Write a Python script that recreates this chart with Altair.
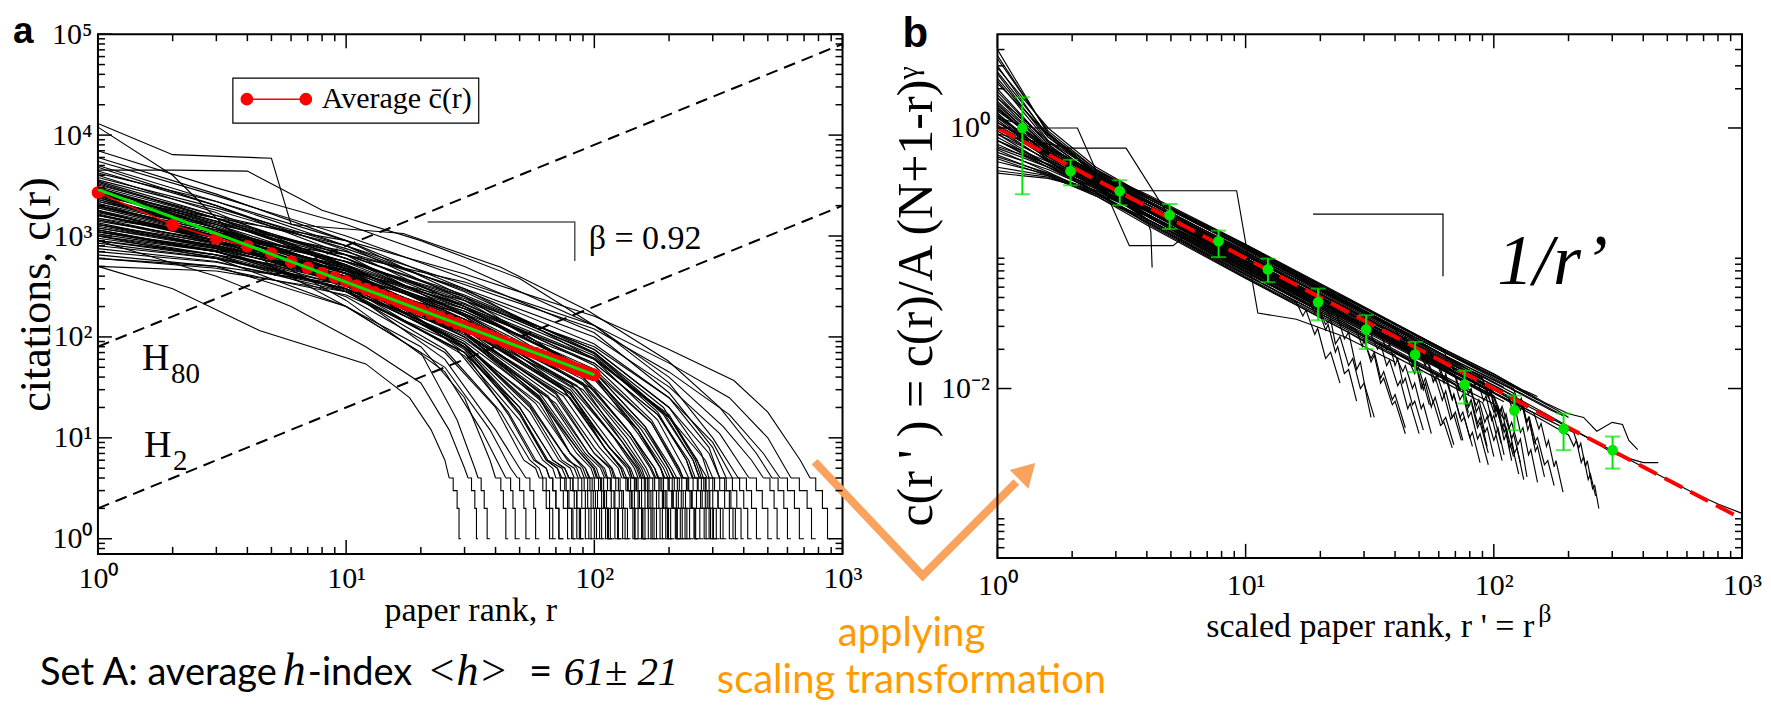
import altair as alt
import pandas as pd

SERIF = "Liberation Serif"
SANS = "Liberation Sans"
HUM = "Lato"

# ---------------------------------------------------------------- data
# Panel a: citation curves c(r).  "rank:citations" key points of the body,
# then after "|" the ranks where the staircase tail drops to 3, 2, 1 citations, and the last rank.
A_CURVES = [
    "1:2500 3:1500 10:900 30:420 100:160 200:75 365:37 500:18 676:6 740:4 | 780 830 870 900",
    "1:1500 3:1000 10:650 30:350 100:130 200:55 350:25 500:10 620:4 | 670 720 750 780",
    "1:3200 3:1600 10:800 30:330 100:120 200:45 350:17 480:7 560:4 | 600 640 670 700",
    "1:13000 2:6400 5:5900 6:1300 17:1060 42:490 94:183 198:58 320:20 450:7 520:4 | 550 580 600 620",
    "1:7000 3:3000 10:1300 30:500 100:130 200:40 330:13 430:6 480:4 | 510 530 545 560",
    "1:2200 3:1300 10:700 30:300 100:100 200:32 320:11 420:4 | 450 475 500 520",
    "1:4500 2:4500 4:4400 8:1800 20:900 50:380 100:130 200:35 300:10 380:4 | 410 430 450 470",
    "1:1200 3:800 10:450 30:230 100:80 200:25 300:9 360:4 | 385 400 415 430",
    "1:5500 3:2500 10:1000 30:380 100:110 200:28 300:8 340:4 | 360 375 390 400",
    "1:2800 3:1500 10:650 30:260 100:75 200:20 290:7 320:4 | 340 355 370 380",
    "1:1700 3:1000 10:500 30:200 100:60 200:16 280:6 300:4 | 320 335 350 360",
    "1:900 3:650 10:400 30:190 100:60 200:17 270:5 285:4 | 300 315 330 340",
    "1:3800 3:1900 10:800 30:280 100:70 200:16 260:6 275:4 | 290 300 310 320",
    "1:2400 3:1200 10:520 30:200 100:55 180:17 240:6 255:4 | 270 280 290 300",
    "1:600 3:500 10:330 30:170 100:55 180:17 235:6 250:4 | 262 272 282 290",
    "1:4200 3:2200 10:900 30:300 100:60 180:15 230:5 240:4 | 250 258 266 275",
    "1:1400 3:900 10:450 30:180 100:45 170:14 215:5 225:4 | 235 243 252 260",
    "1:3000 3:1400 10:550 30:190 100:45 160:13 205:5 215:4 | 225 233 242 250",
    "1:800 3:600 10:330 30:150 100:40 160:12 200:5 208:4 | 216 224 232 240",
    "1:2000 3:1100 10:480 30:170 100:38 150:12 190:5 198:4 | 206 214 222 230",
    "1:6000 3:2600 10:900 30:250 100:40 150:11 185:5 190:4 | 198 205 212 220",
    "1:1100 3:750 10:380 30:140 100:30 140:11 175:5 182:4 | 190 196 203 210",
    "1:2600 3:1300 10:500 30:160 90:35 140:10 168:5 175:4 | 182 188 194 200",
    "1:700 3:550 10:300 30:120 90:30 130:10 158:5 165:4 | 172 178 184 190",
    "1:3500 3:1600 10:600 30:170 90:33 130:9 152:5 158:4 | 164 169 174 180",
    "1:1600 3:950 10:420 30:140 80:35 120:10 145:5 150:4 | 155 160 165 170",
    "1:1000 3:700 10:350 30:120 80:30 120:8 140:5 145:4 | 150 155 160 165",
    "1:2300 3:1200 10:450 30:130 80:28 115:8 135:5 140:4 | 145 150 155 160",
    "1:500 3:450 10:280 30:110 80:25 110:8 130:5 135:4 | 140 145 150 155",
    "1:4800 3:2000 10:650 30:160 80:28 110:8 128:5 132:4 | 137 142 146 150",
    "1:1300 3:800 10:380 30:110 70:28 100:8 118:5 122:4 | 127 131 136 140",
    "1:1900 3:1000 10:400 30:110 70:25 100:7 115:5 118:4 | 122 126 130 135",
    "1:850 3:600 10:300 30:95 70:22 95:7 108:5 112:4 | 116 120 124 128",
    "1:2700 3:1200 10:420 30:110 60:28 90:7 102:5 105:4 | 109 112 116 120",
    "1:1150 3:700 10:320 30:90 60:25 85:7 97:5 100:4 | 104 107 111 115",
    "1:600 3:480 10:260 30:80 60:22 80:7 92:5 96:4 | 100 103 107 110",
    "1:3300 3:1500 10:480 30:110 60:25 80:7 90:5 93:4 | 96 99 102 105",
    "1:1500 3:850 10:350 30:85 55:22 75:7 85:5 88:4 | 91 94 97 100",
    "1:2100 3:1000 10:380 30:80 55:18 72:6 80:5 83:4 | 86 89 92 95",
    "1:750 3:560 10:280 30:70 50:18 65:6 74:5 77:4 | 80 83 85 88",
    "1:1800 3:900 10:320 30:65 50:15 62:6 68:5 70:4 | 73 75 78 80",
    "1:4000 3:1700 10:500 30:70 45:17 57:6 64:5 66:4 | 68 70 72 75",
    "1:950 3:650 10:250 25:70 40:20 52:6 58:5 60:4 | 62 64 66 68",
    "1:2500 3:1100 10:300 25:60 40:12 50:5 53:4 | 55 57 58 60",
    "1:650 3:500 10:200 25:50 38:12 46:5 49:4 | 50 52 53 55",
    "1:3000 3:1200 10:230 25:45 35:12 42:5 44:4 | 46 47 48 50",
    "1:12000 2:4000 3:1500 5:500 10:200 20:80 30:25 38:6 40:4 | 42 43 44 45",
    "1:1000 3:600 10:200 20:70 28:15 33:5 34:4 | 35 36 37 38",
    "1:900 3:400 6:200 12:80 20:35 26:12 30:5 31:4 | 32 33 33.5 34",
    "1:500 2:300 4.5:115 12:54 18:25 22:12 25:6 26:4 | 27 28 28.5 29",
    "1:2000 3:1100 10:560 30:230 100:65 180:18 235:6 248:4 | 260 268 277 285",
    "1:1800 3:1000 10:480 30:190 100:45 160:13 200:5 210:4 | 220 228 236 245",
    "1:3100 3:1500 10:600 30:200 100:42 150:12 185:5 192:4 | 200 208 216 225",
    "1:1250 3:780 10:400 30:150 90:38 140:11 170:5 177:4 | 184 190 197 205",
    "1:2200 3:1150 10:470 30:150 90:34 135:10 162:5 168:4 | 175 182 188 195",
    "1:1450 3:870 10:400 30:140 85:33 130:9 155:5 160:4 | 166 172 178 185",
    "1:2900 3:1400 10:520 30:150 85:30 125:9 148:5 153:4 | 159 164 169 175",
    "1:1750 3:950 10:400 30:125 80:27 115:8 138:5 142:4 | 148 152 157 162",
    "1:1050 3:700 10:340 30:110 75:26 105:8 125:5 129:4 | 134 139 143 148",
    "1:2600 3:1250 10:450 30:120 70:27 100:7 117:5 120:4 | 125 129 133 138",
    "1:1350 3:780 10:340 30:100 65:25 92:7 106:5 110:4 | 113 117 121 125",
    "1:2000 3:1000 10:380 30:100 60:26 88:7 100:5 103:4 | 107 110 114 118",
    "1:900 3:620 10:300 30:85 58:22 80:7 92:5 95:4 | 98 101 105 108",
    "1:1650 3:900 10:350 30:85 55:20 74:6 83:5 86:4 | 89 92 95 98",
    "1:1150 3:700 10:290 30:70 50:20 68:6 76:5 79:4 | 82 85 87 90",
    "1:2400 3:1100 10:380 30:75 50:17 64:6 71:5 74:4 | 77 79 82 84",
    "1:1300 3:750 10:280 25:75 42:18 55:6 60:5 62:4 | 64 66 68 70",
    "1:1600 3:1000 10:560 30:250 100:75 200:20 270:7 290:4 | 305 315 322 330",
    "1:2600 3:1400 10:650 30:250 100:68 190:17 250:6 265:4 | 280 290 300 310",
    "1:1100 3:720 10:400 30:180 100:48 170:14 218:5 228:4 | 240 248 256 265",
    "1:5000 3:2200 10:800 30:230 100:42 155:12 195:5 202:4 | 210 218 226 235",
    "1:3600 3:1800 10:750 30:290 100:85 200:25 290:8 320:4 | 335 350 362 375",
    "1:2100 3:1150 10:560 30:240 100:70 190:20 255:6 270:4 | 282 292 302 312",
    "1:1300 3:850 10:460 30:210 100:62 190:18 250:6 265:4 | 276 285 294 303",
    "1:2700 3:1350 10:600 30:215 100:52 170:15 220:5 228:4 | 238 246 254 262",
    "1:1600 3:900 10:430 30:165 90:40 150:12 185:5 192:4 | 200 207 214 222",
    "1:4400 3:2000 10:720 30:200 90:40 140:11 175:5 180:4 | 187 193 199 206",
    "1:1950 3:1050 10:430 30:135 80:32 125:9 150:5 155:4 | 161 166 171 177",
    "1:1200 3:760 10:360 30:120 75:30 115:8 138:5 142:4 | 147 152 156 161",
    "1:3400 3:1500 10:520 30:140 75:30 110:8 128:5 132:4 | 136 141 145 150",
    "1:1450 3:820 10:360 30:105 65:26 95:7 110:5 113:4 | 117 121 125 129",
    "1:2300 3:1100 10:420 30:100 60:24 88:7 99:5 102:4 | 106 109 113 117",
    "1:1000 3:650 10:300 30:85 55:21 78:6 88:5 91:4 | 94 97 100 103",
    "1:1750 3:900 10:330 30:78 50:20 68:6 76:5 79:4 | 82 85 88 91",
    "1:2900 3:1300 10:420 30:80 50:18 64:6 71:5 73:4 | 76 78 81 84",
    "1:1100 3:700 10:280 28:75 45:18 58:6 64:5 66:4 | 68 70 72 75",
]

# Panel a: average curve (red dots) and power-law fit (green)
AVG_RANK = [1, 2, 3, 4, 5, 6, 7, 8, 9, 10, 11, 12, 13, 14, 15, 16, 17, 18, 19, 20,
            22, 24, 26, 28, 30, 32, 34, 36, 38, 40, 43, 46, 49, 52, 55, 58, 61, 64, 67,
            70, 73, 76, 79, 82, 85, 88, 91, 94, 97, 100]
AVG_CIT = [2700, 1290, 950, 790, 670, 555, 485, 430, 390, 355, 322, 298, 276, 258, 242, 228,
           215, 204, 194, 185, 170, 157, 146, 136, 127, 120, 113, 107, 102, 97, 91, 85, 80,
           76, 72, 69, 66, 63, 60, 58, 56, 54, 52, 50, 48, 47, 45, 44, 43, 42]
FIT_RANK = [1, 100]
FIT_CIT = [2900, 42]
H_RANK = [1, 1000]
H80_CIT = [80, 80000]
H2_CIT = [2, 2000]
A_TRI_RANK = [21.3, 83.4, 83.4]
A_TRI_CIT = [1377, 1377, 565]
ARROW_RANK = [772, 2102, 5016]
ARROW_CIT = [5.78, 0.43, 3.65]
HEAD_RANK = [5408]
HEAD_CIT = [4.39]

# Panel b: rescaled curves, "r':c'" points
B_CURVES = [
    "1:4.0 1.6:0.9 2.5:0.45 4:0.275 10:0.1 20:0.0475 22:0.036 23:0.04 25:0.024 26:0.027 28:0.014 29:0.016 31:0.008 32:0.006",
    "1:3.4 1.6:0.95 2.5:0.48 4:0.29 10:0.118 25:0.046 40:0.029 43:0.022 44:0.025 47:0.015 48:0.017 51:0.01 52:0.011 55:0.0075",
    "1:3.0 1.6:0.85 2.5:0.44 4:0.28 10:0.112 25:0.045 63:0.018 90:0.012 95:0.0085 97:0.0095 102:0.006 104:0.0068 110:0.004 112:0.0045 118:0.0028",
    "1:2.6 1.6:0.8 2.5:0.42 4:0.27 10:0.108 25:0.044 63:0.0175 120:0.0092 128:0.0068 131:0.0075 137:0.0048 140:0.0054 147:0.0033 150:0.0036 160:0.0021",
    "1:2.3 1.6:0.78 2.5:0.43 4:0.26 10:0.104 25:0.042 63:0.0165 100:0.0105 160:0.0065 250:0.004 300:0.0032 330:0.003 400:0.0027 460:0.0027",
    "1:2.0 1.6:0.75 2.5:0.41 4:0.25 10:0.1 25:0.04 63:0.0158 100:0.01 160:0.0063 250:0.004 400:0.0025 630:0.0016 800:0.0013 1000:0.0011",
    "1:1.8 1.6:0.72 2.5:0.44 4:0.29 10:0.122 25:0.05 63:0.02 100:0.013 160:0.0078 200:0.0064 230:0.006 260:0.0047 300:0.0055 330:0.0053 350:0.004 380:0.0034",
    "1:1.6 1.6:0.7 2.5:0.4 4:0.24 10:0.094 25:0.037 63:0.0145 100:0.0092 160:0.0056 200:0.0044 210:0.0036 215:0.004 225:0.0027 230:0.003 240:0.002 245:0.0022 257:0.0015",
    "1:1.5 1.6:0.68 2.5:0.38 4:0.22 10:0.088 25:0.035 63:0.014 100:0.0088 106:0.0066 108:0.0073 115:0.0049 118:0.0055 125:0.0037 128:0.0041 136:0.0021",
    "1:1.4 1.6:0.66 2.5:0.42 4:0.27 10:0.11 25:0.046 63:0.019 100:0.0125 150:0.0082 180:0.0068 200:0.006",
    "1:1.3 1.6:0.62 2.5:0.36 4:0.21 10:0.082 25:0.032 63:0.0125 80:0.0098 85:0.0074 87:0.0082 92:0.0055 94:0.0061 100:0.004 102:0.0044 108:0.0028",
    "1:1.25 1.6:0.64 2.5:0.43 4:0.3 10:0.125 25:0.05 63:0.0195 100:0.0125 120:0.0105 140:0.0088",
    "1:1.2 1.6:0.6 2.5:0.35 4:0.2 10:0.078 25:0.031 45:0.017 48:0.013 49:0.0145 52:0.0098 53:0.011 56:0.0072 57:0.008 61:0.0052 63:0.0055 68:0.0035",
    "1:1.15 1.6:0.6 2.5:0.39 4:0.25 10:0.1 25:0.039 63:0.0155 100:0.0098 130:0.0074 135:0.0055 138:0.006 145:0.0038 150:0.0042 160:0.0026 165:0.0028 175:0.0018",
    "1:1.1 1.6:0.63 2.5:0.41 4:0.27 10:0.106 25:0.042 63:0.017 90:0.0125 110:0.0102",
    "1:1.05 1.6:0.58 2.5:0.37 4:0.23 10:0.09 25:0.035 35:0.026 37:0.02 38:0.022 40:0.015 41:0.017 43:0.011 44:0.012 47:0.0075 48:0.008 52:0.0048",
    "1:1.0 1.6:0.6 2.5:0.4 4:0.26 10:0.104 25:0.042 63:0.0165 80:0.0128 90:0.0112",
    "1:0.95 1.6:0.56 2.5:0.36 4:0.22 10:0.085 18:0.048 19:0.038 19.5:0.042 21:0.028 21.5:0.031 23:0.019 23.5:0.021 25:0.013 26:0.014 28:0.008",
    "1:0.9 1.6:0.57 2.5:0.38 4:0.245 10:0.097 25:0.038 63:0.015 75:0.0122 79:0.009 81:0.01 85:0.0066 87:0.0073 92:0.0046 94:0.005 100:0.003",
    "1:0.85 1.6:0.52 2.5:0.34 4:0.21 10:0.08 20:0.039 21:0.031 22:0.034 23:0.022 24:0.025 26:0.015 27:0.017 29:0.01 30:0.011 33:0.006",
    "1:0.8 1.6:0.52 2.5:0.36 4:0.24 10:0.1 25:0.041 63:0.0165 100:0.0106 120:0.0088",
    "1:0.75 1.6:0.5 2.5:0.34 4:0.22 10:0.087 25:0.034 45:0.019 48:0.0145 49:0.016 52:0.011 53:0.012 57:0.0078 58:0.0086 62:0.0055 64:0.006 69:0.0037",
    "1:0.7 1.6:0.5 2.5:0.35 4:0.23 10:0.092 25:0.036 63:0.0142 70:0.0126 73:0.0097 75:0.0107 79:0.0072 81:0.0079 86:0.005 88:0.0055 95:0.0032",
    "1:0.65 1.6:0.48 2.5:0.33 4:0.21 10:0.084 25:0.034 63:0.0136 95:0.0088 100:0.0066 102:0.0073 108:0.0049 110:0.0054 116:0.0035 118:0.0038 126:0.0022",
    "1:0.6 1.6:0.45 2.5:0.31 4:0.2 10:0.08 25:0.032 28:0.028 29.5:0.021 30:0.024 32:0.016 33:0.018 35:0.011 36:0.012 39:0.0075 40:0.008 44:0.0045",
    "1:0.55 1.6:0.44 2.5:0.33 4:0.22 10:0.09 25:0.037 63:0.0148 85:0.011 95:0.0095",
    "1:0.5 1.6:0.43 2.5:0.32 4:0.215 10:0.088 25:0.035 63:0.0138 100:0.0087 110:0.0079",
    "1:0.47 1.6:0.42 2.5:0.31 4:0.2 10:0.083 25:0.033 55:0.0152 58:0.0115 59:0.0128 63:0.0088 64:0.0096 68:0.006 70:0.0066 75:0.004",
    "1:0.45 1.6:0.41 2.5:0.33 4:0.23 10:0.095 25:0.039 63:0.0155 85:0.0115 95:0.0102",
    "1:2.9 1.6:1.0 2.5:0.5 4:0.3 10:0.12 25:0.047 63:0.019 100:0.0123 140:0.0088 150:0.0082",
    "1:2.2 1.6:0.9 2.5:0.48 4:0.3 10:0.124 25:0.048 63:0.018 80:0.0138 84:0.0105 86:0.0116 91:0.008 93:0.0088 98:0.0057 100:0.0062 107:0.0038",
    "1:1.7 1.6:0.8 2.5:0.46 4:0.28 10:0.112 25:0.045 40:0.029 55:0.02 58:0.0155 59:0.017 63:0.0118 64:0.013 68:0.0083 69:0.009 74:0.0056 76:0.006 82:0.0036",
    "1:1.35 1.6:0.72 2.5:0.45 4:0.27 10:0.108 25:0.042 63:0.016 100:0.0098 115:0.0085 120:0.0064 122:0.007 128:0.0046 131:0.005 138:0.0031 141:0.0034 150:0.0019",
    "1:1.1 1.6:0.68 2.5:0.44 4:0.29 10:0.118 25:0.047 63:0.018 100:0.0116 130:0.0091 160:0.0074 190:0.0062",
    "1:0.72 1.6:0.53 2.5:0.37 4:0.235 10:0.095 25:0.036 60:0.0145 63:0.011 64:0.012 68:0.0082 69:0.009 73:0.006 75:0.0066 80:0.0042 82:0.0046 88:0.0027",
    "1:1.2 1.4:1.0 2.1:1.0 3.4:0.125 5.1:0.125 6:0.16 10:0.1 25:0.04 63:0.015 100:0.0095",
    "1:0.9 1.95:0.7 3.3:0.7 5:0.2 10:0.095 25:0.037 50:0.019",
    "1:1.0 2:0.5 3.4:0.33 9.2:0.33 11.2:0.038 16:0.034 25:0.025 40:0.016",
    "1:1.4 1.6:0.7 2.5:0.4 4:0.2 4.15:0.16 4.2:0.085",
    "1:1.9 1.6:0.75 2.5:0.39 4:0.23 10:0.09 25:0.036 63:0.0145 100:0.0093 145:0.0065 152:0.0049 155:0.0054 163:0.0036 166:0.004 175:0.0025 178:0.0028 190:0.0016",
    "1:1.45 1.6:0.65 2.5:0.37 4:0.235 10:0.093 25:0.036 63:0.0138 100:0.0085 105:0.0064 107:0.007 113:0.0046 115:0.0051 121:0.0032 124:0.0035 132:0.002",
    "1:1.0 1.6:0.55 2.5:0.35 4:0.215 10:0.085 25:0.033 32:0.026 34:0.02 35:0.022 37:0.015 38:0.0165 41:0.0105 42:0.0115 45:0.007 46:0.0077 50:0.0045",
    "1:0.8 1.6:0.55 2.5:0.38 4:0.26 10:0.105 25:0.043 63:0.017 90:0.0118 95:0.009 97:0.0099 102:0.0066 104:0.0072 110:0.0046 112:0.005 120:0.003",
    "1:3.6 1.6:0.92 2.5:0.45 4:0.26 10:0.1 25:0.039 50:0.0195 53:0.015 54:0.0165 57:0.0112 58:0.0123 62:0.0081 63:0.0089 67:0.0058 69:0.0063 74:0.004",
    "1:1.25 1.6:0.62 2.5:0.37 4:0.24 10:0.096 25:0.037 63:0.0145 100:0.0093 160:0.0059 210:0.0046 220:0.0035 224:0.0038 234:0.0025 238:0.0028 250:0.0017 255:0.0018 265:0.0012",
    "1:0.62 1.6:0.44 2.5:0.3 4:0.18 10:0.07 25:0.028 63:0.0112 90:0.0078 95:0.006 97:0.0066 102:0.0045 104:0.005 110:0.0031",
    "1:0.68 1.6:0.46 2.5:0.31 4:0.19 10:0.072 25:0.029 40:0.018 43:0.0135 44:0.015 47:0.01 48:0.011 51:0.007 52:0.0076 56:0.0045",
    "1:0.9 1.6:0.52 2.5:0.32 4:0.19 10:0.074 25:0.03 63:0.0118 100:0.0076 110:0.0058 112:0.0064 118:0.0041 120:0.0045 128:0.0027",
    "1:1.3 1.6:0.56 2.5:0.32 4:0.185 10:0.071 25:0.028 30:0.023 32:0.017 33:0.019 35:0.012 36:0.0135 39:0.0082 40:0.009 44:0.005",
    "1:1.7 1.6:0.7 2.5:0.46 4:0.31 10:0.128 25:0.051 63:0.02 100:0.0128 130:0.0098 150:0.0087",
    "1:2.4 1.6:0.85 2.5:0.47 4:0.3 10:0.126 25:0.05 63:0.0195 80:0.0155 90:0.0138",
    "1:1.2 1.6:0.7 2.5:0.45 4:0.3 10:0.127 25:0.049 50:0.025 60:0.021 63:0.02 66:0.014 68:0.0155 72:0.0098 74:0.0108 79:0.0065",
    "1:1.05 1.6:0.64 2.5:0.44 4:0.29 10:0.12 25:0.048 63:0.019 100:0.012 120:0.01 126:0.0076 129:0.0084 136:0.0055 139:0.006 148:0.0037",
    "1:0.8 1.6:0.5 2.5:0.32 4:0.195 10:0.076 16:0.046 17:0.036 17.5:0.04 19:0.026 19.5:0.029 21:0.017 22:0.019 24:0.011",
    "1:0.58 1.6:0.43 2.5:0.3 4:0.19 10:0.075 25:0.03 63:0.012 75:0.0098 79:0.0074 81:0.0082 86:0.0054 88:0.006 94:0.0036",
    "1:2.7 1.6:0.88 2.5:0.44 4:0.27 10:0.115 25:0.046 63:0.018 100:0.0117 170:0.0068 190:0.0062",
    "1:1.55 1.6:0.66 2.5:0.36 4:0.2 10:0.078 25:0.031 63:0.0122 70:0.0108 73:0.0082 75:0.009 79:0.006 81:0.0066 86:0.0041 88:0.0045 95:0.0026",
]
GREEN_R = [1.26, 1.97, 3.11, 4.94, 7.78, 12.3, 19.6, 30.6, 48.2, 76.2, 121, 191, 301]
GREEN_C = [1.0, 0.466, 0.327, 0.214, 0.135, 0.082, 0.046, 0.0284, 0.0182, 0.0107, 0.0068, 0.0049, 0.00336]
GREEN_HI = [1.72, 0.57, 0.397, 0.261, 0.163, 0.0994, 0.0585, 0.0365, 0.0228, 0.0137, 0.00883, 0.00643, 0.00428]
GREEN_LO = [0.31, 0.363, 0.255, 0.168, 0.102, 0.0655, 0.0334, 0.0201, 0.0134, 0.00767, 0.00479, 0.00336, 0.00243]
SCALE_R = [1, 1000]
SCALE_C = [1.0, 0.001]
B_TRI_R = [18.7, 62.4, 62.4]
B_TRI_C = [0.218, 0.218, 0.0727]

# ticks and tick labels
X_MAJOR = [1, 10, 100, 1000]
X_LABELS = ["10⁰", "10¹", "10²", "10³"]
X_MINOR = [k * 10 ** e for e in range(0, 3) for k in range(2, 10)]
YA_MAJOR = [1, 10, 100, 1000, 10000, 100000]
YA_LABELS = ["10⁰", "10¹", "10²", "10³", "10⁴", "10⁵"]
YA_MINOR = [0.8, 0.9] + [k * 10 ** e for e in range(0, 5) for k in range(2, 10)]
YB_MAJOR = [1, 0.01]
YB_LABELS = ["10⁰", "10⁻²"]
YB_MINOR = [2, 3, 4, 0.1, 0.02, 0.03, 0.04, 0.05, 0.06, 0.07, 0.08, 0.09,
            0.001, 0.0006, 0.0007, 0.0008, 0.0009]

# ---------------------------------------------------------------- tables
rows_a, rows_at = [], []
for i, s in enumerate(A_CURVES):
    body, tail = s.split("|")
    pts = [tuple(float(v) for v in p.split(":")) for p in body.split()]
    t = [float(v) for v in tail.split()]
    for k, (r, c) in enumerate(pts):
        rows_a.append({"id": i, "k": k, "r": r, "c": c})
    steps = [pts[-1], (t[0], 3), (t[1], 2), (t[2], 1), (t[3], 1)]
    for k, (r, c) in enumerate(steps):
        rows_at.append({"id": i, "k": k, "r": r, "c": c})
df_a = pd.DataFrame(rows_a)
df_at = pd.DataFrame(rows_at)

rows_b = []
for i, s in enumerate(B_CURVES):
    for k, p in enumerate(s.split()):
        r, c = (float(v) for v in p.split(":"))
        rows_b.append({"id": i, "k": k, "r": r, "c": c})
df_b = pd.DataFrame(rows_b)

df_avg = pd.DataFrame({"r": AVG_RANK, "c": AVG_CIT})
df_fit = pd.DataFrame({"r": FIT_RANK, "c": FIT_CIT})
df_h = pd.DataFrame({"line": ["H80"] * 2 + ["H2"] * 2, "r": H_RANK * 2, "c": H80_CIT + H2_CIT})
df_atri = pd.DataFrame({"k": range(3), "r": A_TRI_RANK, "c": A_TRI_CIT})
df_arrow = pd.DataFrame({"k": range(3), "r": ARROW_RANK, "c": ARROW_CIT})
df_head = pd.DataFrame({"r": HEAD_RANK, "c": HEAD_CIT})
df_green = pd.DataFrame({"r": GREEN_R, "c": GREEN_C, "hi": GREEN_HI, "lo": GREEN_LO})
df_scale = pd.DataFrame({"r": SCALE_R, "c": SCALE_C})
df_btri = pd.DataFrame({"k": range(3), "r": B_TRI_R, "c": B_TRI_C})
ONE = pd.DataFrame({"k": [0]})

# ---------------------------------------------------------------- scales / axes
W, HA, HB = 745, 520, 524
XA = alt.Scale(type="log", domain=[1, 1000], nice=False)
YA = alt.Scale(type="log", domain=[10 ** -0.15, 1e5], nice=False)
XB = alt.Scale(type="log", domain=[1, 1000], nice=False)
YB = alt.Scale(type="log", domain=[10 ** -3.3, 10 ** 0.72], nice=False)


def label_expr(vals, labels):
    expr = "''"
    for v, l in reversed(list(zip(vals, labels))):
        expr = f"(abs(datum.value - {v}) < {v} * 1e-6 ? '{l}' : {expr})"
    return expr


def x_axis(title, title_y, pad):
    return alt.Axis(values=X_MAJOR, labelExpr=label_expr(X_MAJOR, X_LABELS), ticks=False,
                    domain=False, grid=False, labelFont=SERIF, labelFontSize=30,
                    labelPadding=pad, labelColor="black", labelFlush=False, labelOverlap=False,
                    title=title, titleFont=SERIF, titleFontSize=34, titleFontWeight="normal",
                    titleColor="black", titleY=title_y, titleBaseline="alphabetic")


def y_axis(title, vals, labels, title_x, title_size, pad):
    return alt.Axis(values=vals, labelExpr=label_expr(vals, labels), ticks=False,
                    domain=False, grid=False, labelFont=SERIF, labelFontSize=30,
                    labelPadding=pad, labelColor="black", labelFlush=False, labelOverlap=False,
                    title=title, titleFont=SERIF, titleFontSize=title_size,
                    titleFontWeight="normal", titleColor="black", titleX=title_x,
                    titleBaseline="alphabetic")


AXA = x_axis("paper rank, r", 67, 10)
AYA = y_axis("citations, c(r)", YA_MAJOR, YA_LABELS, -48, 44, 6)
AXB = x_axis("scaled paper rank, r ' = r", 79, 13)
AYB = y_axis("c(r ' ) = c(r)/A (N+1-r)ᵞ", YB_MAJOR, YB_LABELS, -66, 50, 8)


def ex(field, sc, ax):
    return alt.X(field, type="quantitative", scale=sc, axis=ax)


def ey(field, sc, ax):
    return alt.Y(field, type="quantitative", scale=sc, axis=ax)


def tick_layers(xs, ys, axx, axy, xmaj, xmin, ymaj, ymin, H):
    out = []
    for vals, L in ((xmaj, 14), (xmin, 7)):
        base = alt.Chart(pd.DataFrame({"v": vals})).mark_rule(color="black", strokeWidth=1.5)
        out.append(base.encode(x=ex("v", xs, axx), y=alt.value(H), y2=alt.value(H - L)))
        out.append(base.encode(x=ex("v", xs, axx), y=alt.value(0), y2=alt.value(L)))
    for vals, L in ((ymaj, 14), (ymin, 7)):
        base = alt.Chart(pd.DataFrame({"v": vals})).mark_rule(color="black", strokeWidth=1.5)
        out.append(base.encode(y=ey("v", ys, axy), x=alt.value(0), x2=alt.value(L)))
        out.append(base.encode(y=ey("v", ys, axy), x=alt.value(W), x2=alt.value(W - L)))
    return out


def txt(s, x, y, size, font=SERIF, color="black", align="left", **kw):
    return alt.Chart(ONE).mark_text(text=s, font=font, fontSize=size, color=color,
                                    align=align, baseline="alphabetic", **kw).encode(
        x=alt.value(x), y=alt.value(y))


# ---------------------------------------------------------------- panel a
ORANGE_TXT = "#FF9A00"
ORANGE_ARR = "#F9A35F"
GREEN = "#00E600"

pa = [
    # bounds anchor (invisible): fixes where the plot sits on the page
    alt.Chart(ONE).mark_rect(opacity=0).encode(x=alt.value(-89), x2=alt.value(-88),
                                                y=alt.value(-25), y2=alt.value(-24)),
    alt.Chart(df_a).mark_line(color="black", strokeWidth=1.1, clip=True).encode(
        x=ex("r", XA, AXA), y=ey("c", YA, AYA), detail="id:N", order="k:Q"),
    alt.Chart(df_at).mark_line(color="black", strokeWidth=1.1, interpolate="step-after", clip=True).encode(
        x=ex("r", XA, AXA), y=ey("c", YA, AYA), detail="id:N", order="k:Q"),
    alt.Chart(df_h).mark_line(color="black", strokeWidth=2, strokeDash=[12, 7], clip=True).encode(
        x=ex("r", XA, AXA), y=ey("c", YA, AYA), detail="line:N"),
    alt.Chart(df_avg).mark_line(color="red", strokeWidth=1.5).encode(
        x=ex("r", XA, AXA), y=ey("c", YA, AYA)),
    alt.Chart(df_avg).mark_circle(color="red", size=160, opacity=1).encode(
        x=ex("r", XA, AXA), y=ey("c", YA, AYA)),
    alt.Chart(df_fit).mark_line(color=GREEN, strokeWidth=3).encode(
        x=ex("r", XA, AXA), y=ey("c", YA, AYA)),
    alt.Chart(df_atri).mark_line(color="#555555", strokeWidth=1.5).encode(
        x=ex("r", XA, AXA), y=ey("c", YA, AYA), order="k:Q"),
    # legend
    alt.Chart(ONE).mark_rect(fill="white", stroke="black", strokeWidth=1.2).encode(
        x=alt.value(135), x2=alt.value(381), y=alt.value(44), y2=alt.value(89)),
    alt.Chart(ONE).mark_rule(color="red", strokeWidth=1.5).encode(
        x=alt.value(149), x2=alt.value(208), y=alt.value(65)),
    alt.Chart(ONE).mark_circle(color="red", size=160, opacity=1).encode(x=alt.value(149), y=alt.value(65)),
    alt.Chart(ONE).mark_circle(color="red", size=160, opacity=1).encode(x=alt.value(208), y=alt.value(65)),
    txt("Average c\u0304(r)", 224, 74, 30),
    # annotations
    txt("β = 0.92", 491, 215, 34),
    txt("H", 44, 336, 38), txt("80", 73, 349, 29),
    txt("H", 46, 423, 38), txt("2", 75, 436, 29),
    txt("a", -85, 9, 37, font=SANS, fontWeight="bold"),
    # orange arrow
    alt.Chart(df_arrow).mark_line(color=ORANGE_ARR, strokeWidth=8, strokeJoin="miter").encode(
        x=ex("r", XA, AXA), y=ey("c", YA, AYA), order="k:Q"),
    alt.Chart(df_head).mark_point(shape="triangle", filled=True, size=700, angle=45,
                                  color=ORANGE_ARR, opacity=1).encode(
        x=ex("r", XA, AXA), y=ey("c", YA, AYA)),
    txt("applying", 814, 612, 40, font=HUM, color=ORANGE_TXT, align="center"),
    txt("scaling transformation", 814, 659, 40, font=HUM, color=ORANGE_TXT, align="center"),
    # bottom caption
    txt("Set A: average", 179, 651, 38, font=HUM, align="right"),
    txt("h", 185, 651, 46, fontStyle="italic"),
    txt("-index", 210, 651, 38, font=HUM),
    txt("<h>", 329, 651, 44, fontStyle="italic"),
    txt("=", 443, 651, 40, font=HUM, align="center"),
    txt("61± 21", 466, 651, 41, fontStyle="italic"),
] + tick_layers(XA, YA, AXA, AYA, X_MAJOR, X_MINOR, YA_MAJOR, YA_MINOR, HA)

panel_a = alt.layer(*pa).properties(width=W, height=HA)

# ---------------------------------------------------------------- panel b
pb = [
    alt.Chart(df_b).mark_line(color="black", strokeWidth=1.15, clip=True).encode(
        x=ex("r", XB, AXB), y=ey("c", YB, AYB), detail="id:N", order="k:Q"),
    alt.Chart(df_scale).mark_line(color="red", strokeWidth=4, strokeDash=[20, 9], clip=True).encode(
        x=ex("r", XB, AXB), y=ey("c", YB, AYB)),
    alt.Chart(df_green).mark_rule(color=GREEN, strokeWidth=2).encode(
        x=ex("r", XB, AXB), y=ey("lo", YB, AYB), y2="hi"),
    alt.Chart(df_green).mark_tick(color=GREEN, orient="horizontal", size=15, thickness=2).encode(
        x=ex("r", XB, AXB), y=ey("hi", YB, AYB)),
    alt.Chart(df_green).mark_tick(color=GREEN, orient="horizontal", size=15, thickness=2).encode(
        x=ex("r", XB, AXB), y=ey("lo", YB, AYB)),
    alt.Chart(df_green).mark_circle(color=GREEN, size=115, opacity=1).encode(
        x=ex("r", XB, AXB), y=ey("c", YB, AYB)),
    alt.Chart(df_btri).mark_line(color="black", strokeWidth=1.2).encode(
        x=ex("r", XB, AXB), y=ey("c", YB, AYB), order="k:Q"),
    txt("1/r’", 500, 250, 72, fontStyle="italic"),
    txt("β", 541, 588, 26),
    txt("b", -95, 13, 42, font=SANS, fontWeight="bold"),
] + tick_layers(XB, YB, AXB, AYB, X_MAJOR, X_MINOR, YB_MAJOR, YB_MINOR, HB)

panel_b = alt.layer(*pb).properties(width=W, height=HB)

chart = alt.hconcat(panel_a, panel_b, spacing=155, bounds="flush", padding=0).configure_view(
    stroke="black", strokeWidth=2
)

chart.save("out.html", embed_options={"renderer": "svg", "actions": False})
